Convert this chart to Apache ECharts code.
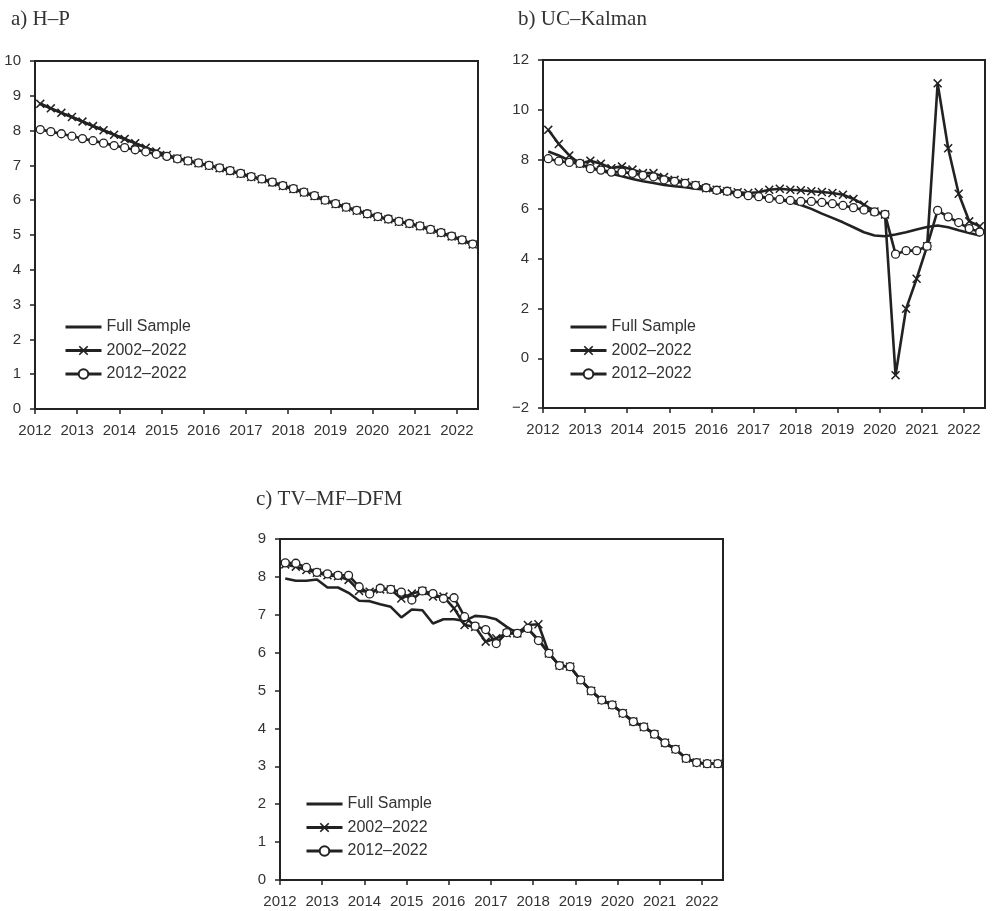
<!DOCTYPE html>
<html>
<head>
<meta charset="utf-8">
<script src="https://cdn.jsdelivr.net/npm/echarts@6/dist/echarts.min.js"></script>
<style>
html,body{margin:0;padding:0;background:#fff;}
#chart{width:994px;height:911px;}
</style>
</head>
<body>
<div id="chart"></div>
<script>
// ---------- data ----------
const seriesNames = ['Full Sample', '2002–2022', '2012–2022'];
const panelTitles = ['a) H–P', 'b) UC–Kalman', 'c) TV–MF–DFM'];
const xTickLabels = ['2012','2013','2014','2015','2016','2017','2018','2019','2020','2021','2022'];
const yTicksA = [0,1,2,3,4,5,6,7,8,9,10];
const yTicksB = [-2,0,2,4,6,8,10,12];
const yTicksC = [0,1,2,3,4,5,6,7,8,9];

// quarters 2012Q1 ... 2022Q2
const quarters = [];
for (let y = 2012; y <= 2022; y++) for (let q = 1; q <= 4; q++) { if (y === 2022 && q > 2) break; quarters.push(y + 'Q' + q); }

// a) H–P
const hpFull = [8.77,8.64,8.51,8.39,8.26,8.13,8.01,7.88,7.76,7.64,7.51,7.40,7.30,7.20,7.13,7.06,6.99,6.92,6.84,6.76,6.67,6.60,6.51,6.41,6.32,6.22,6.12,6.00,5.89,5.79,5.70,5.60,5.52,5.45,5.38,5.32,5.25,5.15,5.06,4.96,4.85,4.73];
const hp2002 = [8.77,8.64,8.51,8.39,8.26,8.13,8.01,7.88,7.76,7.64,7.51,7.40,7.30,7.20,7.13,7.06,6.99,6.92,6.84,6.76,6.67,6.60,6.51,6.41,6.32,6.22,6.12,6.00,5.89,5.79,5.70,5.60,5.52,5.45,5.38,5.32,5.25,5.15,5.06,4.96,4.85,4.73];
const hp2012 = [8.03,7.97,7.91,7.84,7.77,7.71,7.64,7.57,7.51,7.45,7.39,7.32,7.26,7.19,7.13,7.07,7.00,6.93,6.85,6.77,6.68,6.61,6.52,6.42,6.33,6.23,6.13,6.00,5.90,5.80,5.71,5.61,5.53,5.46,5.39,5.33,5.26,5.16,5.07,4.97,4.86,4.74];

// b) UC–Kalman
const ucFull = [8.32,8.16,7.96,7.79,7.68,7.56,7.42,7.32,7.21,7.12,7.05,6.97,6.92,6.88,6.82,6.78,6.72,6.68,6.62,6.57,6.51,6.46,6.38,6.29,6.17,6.01,5.82,5.65,5.47,5.27,5.07,4.94,4.91,4.98,5.07,5.18,5.28,5.34,5.27,5.15,5.04,4.94];
const uc2002 = [9.19,8.62,8.16,7.83,7.95,7.83,7.65,7.72,7.59,7.45,7.45,7.29,7.18,7.08,6.96,6.84,6.78,6.72,6.68,6.65,6.68,6.78,6.82,6.78,6.76,6.72,6.69,6.65,6.58,6.41,6.18,5.91,5.78,-0.68,1.99,3.20,4.51,11.06,8.45,6.62,5.51,5.31];
const uc2012 = [8.03,7.93,7.88,7.84,7.63,7.57,7.49,7.49,7.44,7.36,7.30,7.18,7.12,7.04,6.96,6.86,6.76,6.72,6.62,6.54,6.50,6.43,6.39,6.35,6.31,6.31,6.27,6.22,6.15,6.06,5.97,5.89,5.79,4.19,4.33,4.33,4.51,5.95,5.69,5.46,5.22,5.08];

// c) TV–MF–DFM
const tvFull = [7.96,7.90,7.90,7.93,7.72,7.72,7.58,7.37,7.36,7.28,7.21,6.93,7.14,7.12,6.77,6.88,6.88,6.84,6.97,6.95,6.88,6.68,6.51,6.62,6.35,5.98,5.66,5.63,5.28,4.99,4.75,4.62,4.40,4.18,4.04,3.85,3.62,3.45,3.21,3.10,3.07,3.07];
const tv2002 = [8.33,8.27,8.18,8.11,8.04,8.02,7.92,7.63,7.61,7.67,7.67,7.43,7.56,7.63,7.48,7.48,7.17,6.73,6.68,6.29,6.38,6.51,6.51,6.73,6.75,5.98,5.66,5.63,5.28,4.99,4.75,4.62,4.40,4.18,4.04,3.85,3.62,3.45,3.21,3.10,3.07,3.07];
const tv2012 = [8.37,8.36,8.25,8.12,8.08,8.04,8.04,7.74,7.55,7.70,7.67,7.60,7.39,7.63,7.56,7.43,7.45,6.95,6.70,6.61,6.24,6.53,6.51,6.64,6.32,5.98,5.66,5.63,5.28,4.99,4.75,4.62,4.40,4.18,4.04,3.85,3.62,3.45,3.21,3.10,3.07,3.07];

// ---------- build ----------
function qToX(q) { const y = +q.slice(0,4), n = +q.slice(5); return y + (n - 0.5) / 4; }
function pairs(vals) { return vals.map((v, i) => [qToX(quarters[i]), v]); }

const INK = '#222';
const TXT = '#333';
const SANS = '"Liberation Sans", Arial, sans-serif';
const crossPath = 'path://M0,1.2L1.2,0L5,3.8L8.8,0L10,1.2L6.2,5L10,8.8L8.8,10L5,6.2L1.2,10L0,8.8L3.8,5Z';

const grids = [
  { left: 35, top: 61, width: 443, height: 348 },
  { left: 543, top: 60, width: 442, height: 348 },
  { left: 280, top: 539, width: 443, height: 341 }
];
const yTicks = [yTicksA, yTicksB, yTicksC];
const data = [[hpFull, hp2002, hp2012], [ucFull, uc2002, uc2012], [tvFull, tv2002, tv2012]];
const titlePos = [{ left: 11, top: 9 }, { left: 518, top: 9 }, { left: 256, top: 489 }];
const legendPos = [{ left: 64, top: 319 }, { left: 569, top: 319 }, { left: 305, top: 796 }];

const option = {
  backgroundColor: '#fff',
  animation: false,
  title: panelTitles.map((t, k) => ({
    text: t, left: titlePos[k].left, top: titlePos[k].top, padding: 0,
    textStyle: { fontFamily: '"Liberation Serif", "Times New Roman", serif', fontSize: 21, fontWeight: 'normal', color: TXT }
  })),
  grid: grids.map(g => Object.assign({ show: true, borderColor: INK, borderWidth: 2, backgroundColor: 'transparent' }, g)),
  legend: legendPos.map(p => ({
    data: [
      { name: seriesNames[0], itemStyle: { opacity: 0 } },
      { name: seriesNames[1] },
      { name: seriesNames[2] }
    ],
    orient: 'vertical', left: p.left, top: p.top, padding: 0,
    itemWidth: 36, itemHeight: 12, itemGap: 7.5, selectedMode: false,
    lineStyle: { width: 3, color: INK },
    textStyle: { fontFamily: SANS, fontSize: 16, color: TXT }
  })),
  xAxis: grids.map((g, k) => ({
    type: 'value', gridIndex: k, min: 2012, max: 2022.5, interval: 1,
    axisLine: { show: true, onZero: false, lineStyle: { color: INK, width: 2 } },
    axisTick: { show: true, inside: false, length: 5, lineStyle: { color: INK, width: 1.5 } },
    splitLine: { show: false },
    axisLabel: {
      margin: 14, fontFamily: SANS, fontSize: 15, color: TXT, showMaxLabel: false,
      formatter: v => { const i = Math.round(v - 2012); return (Math.abs(v - Math.round(v)) < 1e-6 && xTickLabels[i]) ? xTickLabels[i] : ''; }
    }
  })),
  yAxis: grids.map((g, k) => {
    const t = yTicks[k];
    return {
      type: 'value', gridIndex: k, min: t[0], max: t[t.length - 1], interval: t[1] - t[0],
      axisLine: { show: true, onZero: false, lineStyle: { color: INK, width: 2 } },
      axisTick: { show: true, inside: false, length: 5, lineStyle: { color: INK, width: 1.5 } },
      splitLine: { show: false },
      axisLabel: { margin: 14, fontFamily: SANS, fontSize: 15, color: TXT, formatter: v => String(v).replace('-', '−') }
    };
  }),
  series: []
};

data.forEach((d, k) => {
  option.series.push({
    name: seriesNames[0], type: 'line', xAxisIndex: k, yAxisIndex: k, data: pairs(d[0]),
    symbol: 'none', lineStyle: { color: INK, width: 2.6 }, itemStyle: { color: INK }, z: 2
  });
  option.series.push({
    name: seriesNames[1], type: 'line', xAxisIndex: k, yAxisIndex: k, data: pairs(d[1]),
    symbol: crossPath, symbolSize: 9, showAllSymbol: true,
    lineStyle: { color: INK, width: 2.6 }, itemStyle: { color: INK, borderWidth: 0 }, z: 3
  });
  option.series.push({
    name: seriesNames[2], type: 'line', xAxisIndex: k, yAxisIndex: k, data: pairs(d[2]),
    symbol: 'circle', symbolSize: 8, showAllSymbol: true,
    lineStyle: { color: INK, width: 2.6 }, itemStyle: { color: '#fff', borderColor: INK, borderWidth: 1.3 }, z: 4
  });
});

const chart = echarts.init(document.getElementById('chart'), null, { renderer: 'canvas' });
chart.setOption(option);
</script>
</body>
</html>
